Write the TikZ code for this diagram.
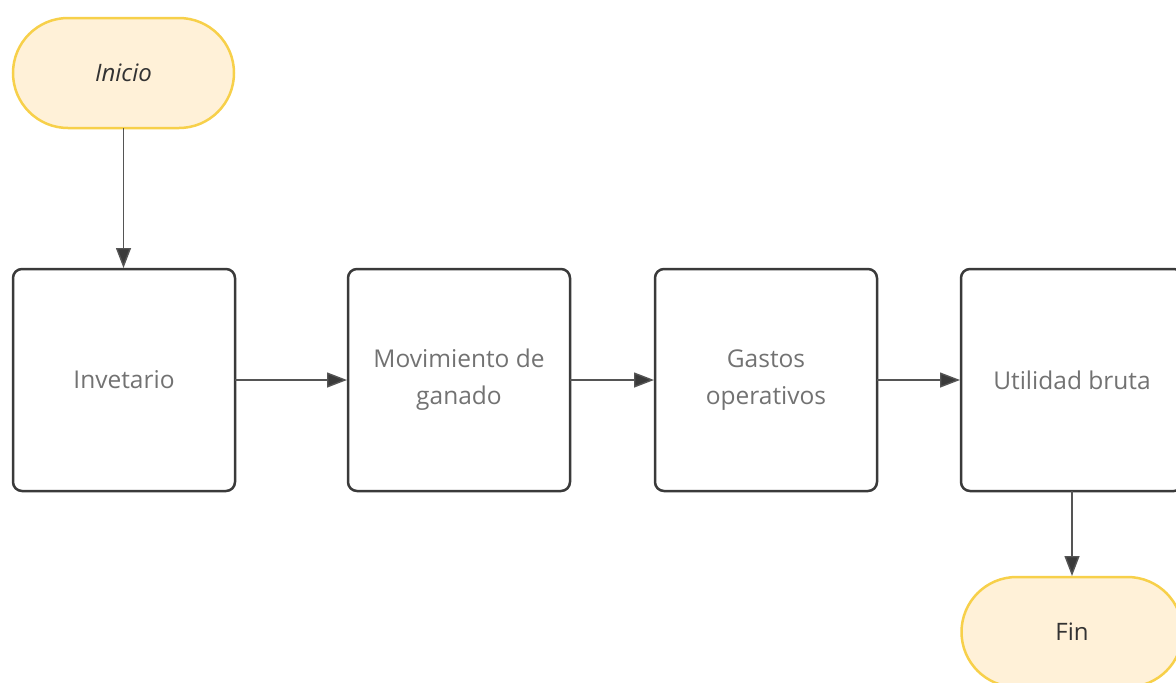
\documentclass[tikz,border=0pt]{standalone}
\usepackage{fontspec}
\setmainfont{Open Sans}
\usetikzlibrary{arrows.meta}
\definecolor{termfill}{HTML}{FFF1D8}
\definecolor{termdraw}{HTML}{F7D04A}
\definecolor{boxdraw}{HTML}{3A3A3A}
\definecolor{boxtext}{HTML}{727272}
\definecolor{darktext}{HTML}{333333}
\definecolor{arrowcol}{HTML}{555555}
\tikzset{
  term/.style={draw=termdraw, fill=termfill, line width=2.5pt, rounded corners=55pt,
    minimum width=221pt, minimum height=110pt, inner sep=0pt, outer sep=0pt,
    font=\fontsize{24}{30}\selectfont, text=darktext},
  procbox/.style={draw=boxdraw, line width=2.5pt, rounded corners=9pt,
    minimum width=222pt, minimum height=222pt, inner sep=0pt, outer sep=0pt,
    align=center, font=\fontsize{24.5}{37}\selectfont, text=boxtext},
  arr/.style={draw=arrowcol, line width=1.4pt, -{Triangle[length=20pt,width=15pt,fill=boxdraw]}, shorten >=1pt},
}
\begin{document}
\begin{tikzpicture}[x=1pt,y=-1pt]
\useasboundingbox (0,0) rectangle (1176,683);
\clip (0,0) rectangle (1176,683);
\node[term] (ini) at (123.5,73) {\itshape Inicio};
\node[procbox] (inv) at (124,380) {Invetario};
\node[procbox] (mov) at (459,380) {Movimiento de\\ganado};
\node[procbox] (gas) at (766,380) {Gastos\\operativos};
\node[procbox] (uti) at (1072,380) {Utilidad bruta};
\node[term] (fin) at (1072,632) {Fin};
\draw[arr] (ini.south) -- (ini.south |- inv.north);
\draw[arr] (inv.east) -- (mov.west);
\draw[arr] (mov.east) -- (gas.west);
\draw[arr] (gas.east) -- (uti.west);
\draw[arr] (uti.south) -- (fin.north);
\end{tikzpicture}
\end{document}
